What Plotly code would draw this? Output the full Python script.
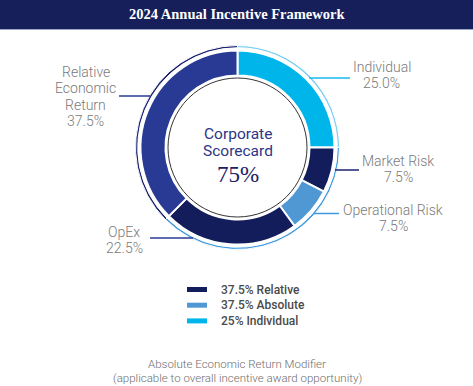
import plotly.graph_objects as go

W, H = 473, 386

# ---- data ----
segments = ["Individual", "Market Risk", "Operational Risk", "OpEx", "Relative Economic Return"]
seg_values = [25.0, 7.5, 7.5, 22.5, 37.5]
seg_colors = ["#00B5EA", "#141D5C", "#4F98D3", "#141D5C", "#283A93"]

groups = ["25% Individual", "37.5% Absolute", "37.5% Relative"]
group_values = [25.0, 37.5, 37.5]
group_colors = ["#7CCFF3", "#3E9BE0", "#1A2270"]

legend_labels = ["37.5% Relative", "37.5% Absolute", "25% Individual"]
legend_colors = ["#141D5C", "#4F98D3", "#00B5EA"]

title = "2024 Annual Incentive Framework"
center_lines = ["Corporate", "Scorecard"]
center_value = "75%"
footer = ["Absolute Economic Return Modifier",
          "(applicable to overall incentive award opportunity)"]

# ---- geometry helpers (pixels -> paper) ----
def px(x):
    return x / W

def py(y):
    return 1 - y / H

cx, cy = 237.5, 147.5
r_out, r_in = 97, 72
r_arc_out, r_arc_in = 102, 99.8
r_circle = 69.5

def dom(r):
    return dict(x=[px(cx - r), px(cx + r)], y=[py(cy + r), py(cy - r)])

fig = go.Figure()

fig.add_trace(go.Pie(
    labels=segments, values=seg_values, sort=False, direction="clockwise",
    rotation=0, hole=r_in / r_out, domain=dom(r_out),
    marker=dict(colors=seg_colors, line=dict(color="white", width=2)),
    textinfo="none", hoverinfo="skip", showlegend=False,
))
fig.add_trace(go.Pie(
    labels=groups, values=group_values, sort=False, direction="clockwise",
    rotation=0, hole=r_arc_in / r_arc_out, domain=dom(r_arc_out),
    marker=dict(colors=group_colors, line=dict(color="white", width=1)),
    textinfo="none", hoverinfo="skip", showlegend=False,
))

shapes = []
annotations = []

def text(t, x, y, size, color, family="Roboto", anchor="center", weight=None):
    f = dict(family=family, size=size, color=color)
    if weight:
        f["weight"] = weight
    annotations.append(dict(text=t, x=px(x), y=py(y), xref="paper", yref="paper",
                            showarrow=False, xanchor=anchor, yanchor="middle", font=f))

# header band
shapes.append(dict(type="rect", xref="paper", yref="paper", x0=0, x1=1,
                   y0=py(29), y1=1, fillcolor="#161F5A", line_width=0, layer="below"))
shapes.append(dict(type="line", xref="paper", yref="paper", x0=0, x1=1,
                   y0=py(29.5), y1=py(29.5), line=dict(color="#9AA8CF", width=1.2)))
text("<b>" + title + "</b>", 237, 14, 14.5, "white", family="Liberation Serif")

# inner thin circle
shapes.append(dict(type="circle", xref="paper", yref="paper",
                   x0=px(cx - r_circle), x1=px(cx + r_circle),
                   y0=py(cy + r_circle), y1=py(cy - r_circle),
                   line=dict(color="#333333", width=1)))

# center text
for i, ln in enumerate(center_lines):
    text(ln, cx, 134 + i * 16.5, 15.5, "#2E3585")
text(center_value, cx, 174, 23, "#1B2263", family="Liberation Serif")

# segment labels with leader lines
label_pos = {  # text centre x, first-line y, leader line (x0, x1, y), line colour
    "Individual": (381.5, 67, (309, 350, 78), "#19B8EC"),
    "Market Risk": (398, 161, (335, 359, 170), "#1A2270"),
    "Operational Risk": (393, 209.5, (314, 339, 213.5), "#3E9BE0"),
    "OpEx": (124.5, 232, (150, 193, 238), "#2A3B94"),
    "Relative Economic Return": (85.5, 72, (119, 150, 96), "#2A3B94"),
}
for name, val in zip(segments, seg_values):
    tx, ty, (lx0, lx1, ly), lc = label_pos[name]
    lines = ["Relative", "Economic", "Return"] if name == "Relative Economic Return" else [name]
    lines = lines + [f"{val:.1f}%"]
    for i, ln in enumerate(lines):
        text(ln, tx, ty + i * 16.3, 14, "#7A7A7A", weight=300)
    shapes.append(dict(type="line", xref="paper", yref="paper", x0=px(lx0), x1=px(lx1),
                       y0=py(ly), y1=py(ly), line=dict(color=lc, width=1.5)))

# legend
for i, (lab, col) in enumerate(zip(legend_labels, legend_colors)):
    yy = 289.5 + i * 15.7
    shapes.append(dict(type="rect", xref="paper", yref="paper", x0=px(187), x1=px(207),
                       y0=py(yy + 2.5), y1=py(yy - 2.5), fillcolor=col, line_width=0))
    text(lab, 218.5, yy, 12, "#4A4A4A", anchor="left", weight=500)

# footer
for i, ln in enumerate(footer):
    text(ln, 237, 364 + i * 13.5, 11.5, "#6E6E6E", weight=300)

fig.update_layout(width=W, height=H, margin=dict(l=0, r=0, t=0, b=0),
                  paper_bgcolor="white", plot_bgcolor="white",
                  shapes=shapes, annotations=annotations, showlegend=False)

fig.write_html("out.html", config={"displayModeBar": False},
               post_script="document.body.style.margin='0';document.body.style.padding='0';"
                           "document.body.style.overflow='hidden';")
